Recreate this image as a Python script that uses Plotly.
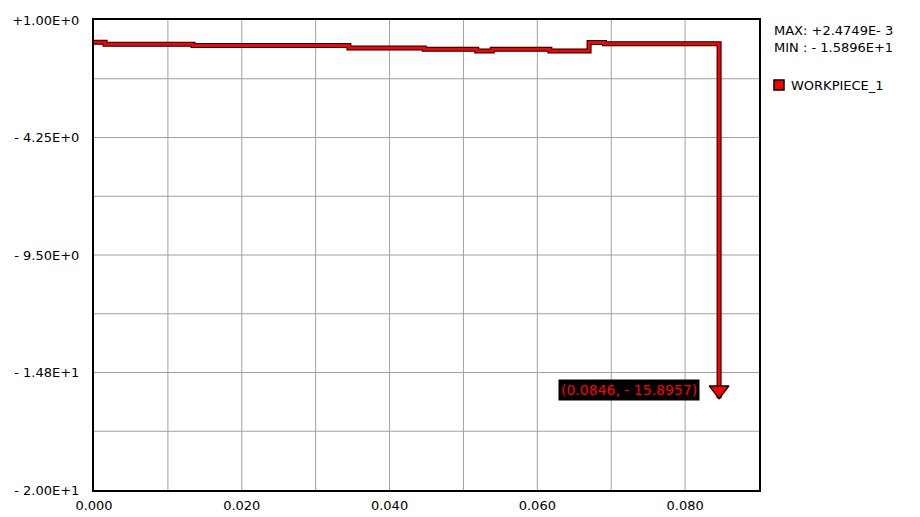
import plotly.graph_objects as go

# Step curve (x in m, value)
x_vals = [0.0, 0.0015, 0.0134, 0.0345, 0.0447, 0.0518, 0.0539, 0.0617, 0.0670, 0.0691, 0.0846]
y_vals = [0.0025, -0.085, -0.14, -0.25, -0.31, -0.38, -0.31, -0.38, 0.0, -0.06, -15.8957]

series_name = "WORKPIECE_1"
max_text = "MAX: +2.4749E- 3"
min_text = "MIN : - 1.5896E+1"
end_label = "(0.0846, - 15.8957)"

x_tick_vals = [0.0, 0.02, 0.04, 0.06, 0.08]
x_tick_text = ["0.000", "0.020", "0.040", "0.060", "0.080"]
y_tick_vals = [1.0, -4.25, -9.5, -14.75, -20.0]
y_tick_text = ["+1.00E+0", "- 4.25E+0", "- 9.50E+0", "- 1.48E+1", "- 2.00E+1"]

X_RANGE = [0.0, 0.09]
Y_RANGE = [-20.0, 1.0]

W, H = 920, 517
OFF = 8  # page body margin offset
# target plot area in page pixels: x 94..759, y 20..490
P_L, P_R, P_T, P_B = 94, 759, 20, 490
M_L = P_L - OFF
M_T = P_T - OFF
M_R = W - (P_R - OFF)
M_B = H - (P_B - OFF)
plot_h = P_B - P_T
plot_w = P_R - P_L
units_per_px = (Y_RANGE[1] - Y_RANGE[0]) / plot_h

FONT = "DejaVu Sans, Verdana, sans-serif"
FS = 13

fig = go.Figure()

# black outline under the red line
fig.add_trace(go.Scatter(x=x_vals, y=y_vals, mode="lines", line=dict(color="black", width=5, shape="hv"),
                         showlegend=False, hoverinfo="skip"))
fig.add_trace(go.Scatter(x=x_vals, y=y_vals, mode="lines", line=dict(color="#ff0000", width=3, shape="hv"),
                         name=series_name, showlegend=False))
# end marker: tip of the downward triangle at the last point
fig.add_trace(go.Scatter(x=[x_vals[-1]], y=[y_vals[-1] + 8 * units_per_px], mode="markers",
                         marker=dict(symbol="triangle-down", size=17, color="#ff0000",
                                     line=dict(color="black", width=1.5)),
                         showlegend=False, hoverinfo="skip", cliponaxis=False))

fig.add_annotation(x=x_vals[-1], y=y_vals[-1], xref="x", yref="y", text=end_label, showarrow=False,
                   xanchor="right", yanchor="middle", xshift=-19, yshift=8,
                   bgcolor="black", font=dict(color="#ff0000", size=14, family=FONT), borderpad=2)


def px_x(px):
    return (px - P_L) / plot_w


def px_y(py):
    return (P_B - py) / plot_h


fig.add_annotation(x=px_x(772), y=px_y(30), xref="paper", yref="paper", text=max_text, showarrow=False,
                   xanchor="left", yanchor="middle", font=dict(color="black", size=FS, family=FONT))
fig.add_annotation(x=px_x(772), y=px_y(47), xref="paper", yref="paper", text=min_text, showarrow=False,
                   xanchor="left", yanchor="middle", font=dict(color="black", size=FS, family=FONT))
fig.add_shape(type="rect", xref="paper", yref="paper", x0=px_x(774), x1=px_x(784), y0=px_y(90), y1=px_y(80),
              fillcolor="#ff0000", line=dict(color="black", width=1.5))
fig.add_annotation(x=px_x(789), y=px_y(85), xref="paper", yref="paper", text=series_name, showarrow=False,
                   xanchor="left", yanchor="middle", font=dict(color="black", size=FS, family=FONT))

fig.update_xaxes(range=X_RANGE, tickvals=x_tick_vals, ticktext=x_tick_text, automargin=False,
                 showgrid=False, zeroline=False, showline=True, linecolor="black", linewidth=2,
                 mirror=True, ticks="", ticklabelstandoff=2,
                 tickfont=dict(size=FS, color="black", family=FONT))
fig.update_yaxes(range=Y_RANGE, tickvals=y_tick_vals, ticktext=y_tick_text, automargin=False,
                 showgrid=False, zeroline=False, showline=True, linecolor="black", linewidth=2,
                 mirror=True, ticks="", ticklabelstandoff=10,
                 tickfont=dict(size=FS, color="black", family=FONT))

# grid lines: every 0.01 in x, every 2.625 in y
for i in range(1, 9):
    gx = X_RANGE[0] + i * (X_RANGE[1] - X_RANGE[0]) / 9
    fig.add_shape(type="line", xref="x", yref="paper", x0=gx, x1=gx, y0=0, y1=1,
                  line=dict(color="#a0a0a0", width=1), layer="below")
for i in range(1, 8):
    gy = Y_RANGE[0] + i * (Y_RANGE[1] - Y_RANGE[0]) / 8
    fig.add_shape(type="line", xref="paper", yref="y", x0=0, x1=1, y0=gy, y1=gy,
                  line=dict(color="#a0a0a0", width=1), layer="below")

fig.update_layout(width=W, height=H, margin=dict(l=M_L, r=M_R, t=M_T, b=M_B, autoexpand=False),
                  paper_bgcolor="white", plot_bgcolor="white", showlegend=False,
                  font=dict(family=FONT, size=FS, color="black"))

fig.write_html("out.html")
